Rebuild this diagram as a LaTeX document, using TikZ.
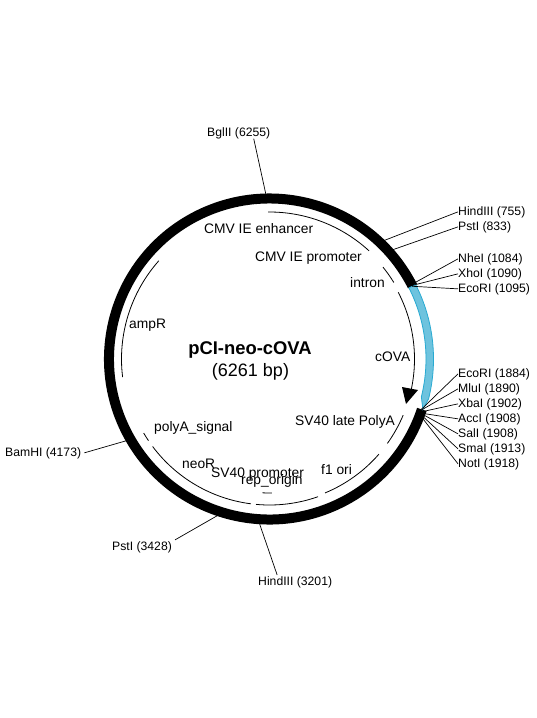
\documentclass[tikz,border=0pt]{standalone}
\usepackage{fontspec}
\setmainfont{Liberation Sans}
\definecolor{insert}{RGB}{110,195,222}
\definecolor{insertedge}{RGB}{40,170,210}
\begin{document}
\begin{tikzpicture}[x=1pt,y=-1pt,
    lbl/.style={inner sep=0pt,anchor=base west,font=\fontsize{13.8}{16}\selectfont},
    site/.style={inner sep=0pt,anchor=base west,font=\fontsize{12.2}{14}\selectfont},
    feat/.style={line width=0.8pt},
    tick/.style={line width=0.7pt}]
  %% Page
  \useasboundingbox[fill=white] (0,0) rectangle (536,718);

  \begin{scope}[shift={(269.5,359)}]
    %% Backbone
    \draw[line width=10pt] (-27.04:160.5) arc[start angle=-27.04,end angle=-341.67,radius=160.5];

    %% Insert, with its arrow end
    \filldraw[fill=insert,draw=insertedge,line width=0.8pt]
      (-27:164) arc[start angle=-27,end angle=14,radius=164]
      -- (18.2:161.5) -- (14:156.5) arc[start angle=14,end angle=-27,radius=156.5] -- cycle;

    %% Feature arcs
    \draw[feat] (-90.5:147) arc[start angle=-90.5,end angle=-47.4,radius=147];
    \draw[feat] (-39:146) arc[start angle=-39,end angle=-31.6,radius=146];
    \draw[feat] (-27.4:145) arc[start angle=-27.4,end angle=13,radius=145];
    \draw[feat] (22.8:145) arc[start angle=22.8,end angle=35.6,radius=145];
    \draw[feat] (41:145) arc[start angle=41,end angle=67.5,radius=145];
    \draw[feat] (70.6:146) arc[start angle=70.6,end angle=95.3,radius=146];
    \draw[feat] (89:134) arc[start angle=89,end angle=93,radius=134];
    \draw[feat] (97.3:146) arc[start angle=97.3,end angle=143.2,radius=146];
    \draw[feat] (146:146) arc[start angle=146,end angle=149.5,radius=146];
    \draw[feat] (173:148) arc[start angle=173,end angle=221.6,radius=148];

    %% Points of the sites on the backbone
    \coordinate (pBgl) at (-91:161);
    \coordinate (pHindA) at (-46.59:161);
    \coordinate (pPstA) at (-42.1:161);
    \coordinate (pNhe) at (-27.67:160);
    \coordinate (pXho) at (-27.32:160);
    \coordinate (pEcoA) at (-27.04:160);
    \coordinate (pEcoB) at (18.33:160);
    \coordinate (pMlu) at (18.67:160);
    \coordinate (pXba) at (19.36:160);
    \coordinate (pAcc) at (19.71:160);
    \coordinate (pSal) at (19.71:160);
    \coordinate (pSma) at (20:160);
    \coordinate (pNot) at (20.29:160);
    \coordinate (pBam) at (149.95:161);
    \coordinate (pPstB) at (107.1:161);
    \coordinate (pHindB) at (94.06:161);
  \end{scope}

  %% cOVA arrow head
  \fill (402,387) -- (418,390) -- (406,404) -- cycle;

  %% Plasmid name
  \node[inner sep=0pt,anchor=base,font=\fontsize{18.4}{20}\selectfont\bfseries] (name) at (250,354) {pCI-neo-cOVA};
  \node[inner sep=0pt,anchor=base,font=\fontsize{18}{20}\selectfont] (size) at (250.5,376) {(6261 bp)};

  %% Feature labels
  \node[lbl] (enh) at (204,233) {CMV IE enhancer};
  \node[lbl] (prom) at (255,261) {CMV IE promoter};
  \node[lbl] (intron) at (350,287) {intron};
  \node[lbl] (cova) at (375,361) {cOVA};
  \node[lbl] (late) at (295,425) {SV40 late PolyA};
  \node[lbl] (fori) at (321,474) {f1 ori};
  \node[lbl] (rep) at (241,484) {rep\_origin};
  \node[lbl] (svp) at (211,477) {SV40 promoter};
  \node[lbl] (neo) at (182,468) {neoR};
  \node[lbl] (polya) at (154,431) {polyA\_signal};
  \node[lbl] (amp) at (129,328) {ampR};

  %% Site labels
  \node[site] (bgl) at (207,136) {BglII (6255)};
  \node[site] (hindA) at (458,215) {HindIII (755)};
  \node[site] (pstA) at (458,230) {PstI (833)};
  \node[site] (nhe) at (458,262) {NheI (1084)};
  \node[site] (xho) at (458,277) {XhoI (1090)};
  \node[site] (ecoA) at (458,292) {EcoRI (1095)};
  \node[site] (ecoB) at (458,377) {EcoRI (1884)};
  \node[site] (mlu) at (458,392) {MluI (1890)};
  \node[site] (xba) at (458,407) {XbaI (1902)};
  \node[site] (acc) at (458,422) {AccI (1908)};
  \node[site] (sal) at (458,437) {SalI (1908)};
  \node[site] (sma) at (458,452) {SmaI (1913)};
  \node[site] (nott) at (458,467) {NotI (1918)};
  \node[site] (bam) at (5,456) {BamHI (4173)};
  \node[site] (pstB) at (112,550) {PstI (3428)};
  \node[site] (hindB) at (258,585) {HindIII (3201)};

  %% Site lines
  \draw[tick] (pBgl) -- ([xshift=15pt]bgl.south);
  \draw[tick] (pHindA) -- (hindA.west);
  \draw[tick] (pPstA) -- (pstA.west);
  \draw[tick] (pNhe) -- (nhe.west);
  \draw[tick] (pXho) -- (xho.west);
  \draw[tick] (pEcoA) -- (ecoA.west);
  \draw[tick] (pEcoB) -- (ecoB.west);
  \draw[tick] (pMlu) -- (mlu.west);
  \draw[tick] (pXba) -- (xba.west);
  \draw[tick] (pAcc) -- (acc.west);
  \draw[tick] (pSal) -- (sal.west);
  \draw[tick] (pSma) -- (sma.west);
  \draw[tick] (pNot) -- (nott.west);
  \draw[tick] (pBam) -- ([xshift=3pt]bam.east);
  \draw[tick] (pPstB) -- ([xshift=3pt,yshift=7pt]pstB.east);
  \draw[tick] (pHindB) -- ([xshift=-18pt,yshift=1pt]hindB.north);
\end{tikzpicture}
\end{document}
